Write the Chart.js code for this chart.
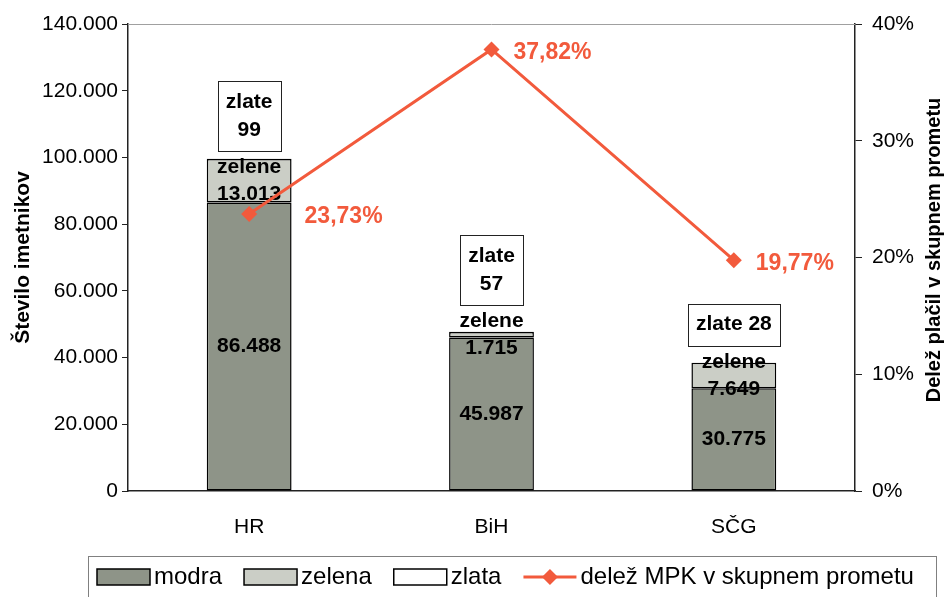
<!DOCTYPE html>
<html>
<head>
<meta charset="utf-8">
<script src="https://cdn.jsdelivr.net/npm/chart.js@4/dist/chart.umd.min.js"></script>
<style>
  html, body { margin: 0; padding: 0; background: #fff; }
  #wrap { width: 946px; height: 597px; }
</style>
</head>
<body>
<div id="wrap"><canvas id="chart" width="946" height="597"></canvas></div>
<script>
// --- DATA ---
const countries = ['HR', 'BiH', 'SČG'];
const modra = [86488, 45987, 30775];
const zelena = [13013, 1715, 7649];
const zlata = [99, 57, 28];
const zlataWrap = [true, true, false];   // label broken into two lines?
const delezMPK = [23.73, 37.82, 19.77];  // %

const leftTicksMax = 140000;
const rightTicksMax = 40;

const FONT = '"Liberation Sans", Arial, sans-serif';
const RED = '#f25a3c';
const MODRA = '#8e9488';
const ZELENA = '#cbcec6';

const fmtNum = v => String(v).replace(/\B(?=(\d{3})+(?!\d))/g, '.');
const fmtPct = v => v.toFixed(2).replace('.', ',') + '%';

// --- PLUGIN: labels, titles, legend ---
const decorPlugin = {
    id: 'decor',
    beforeDatasetDraw(chart, args) {
        // bar labels sit under the line series
        if (args.index !== 3) return;
        const ctx = chart.ctx;
        const m0 = chart.getDatasetMeta(0).data;
        const m1 = chart.getDatasetMeta(1).data;
        const m2 = chart.getDatasetMeta(2).data;
        ctx.save();
        ctx.fillStyle = '#000';
        ctx.textAlign = 'center';
        ctx.textBaseline = 'middle';
        ctx.font = 'bold 21px ' + FONT;
        countries.forEach((c, i) => {
            const b0 = m0[i], b1 = m1[i], b2 = m2[i];
            // modra
            ctx.fillText(fmtNum(modra[i]), b0.x, (b0.y + b0.base) / 2);
            // zelena
            const zc = (b1.y + b1.base) / 2;
            ctx.fillText('zelene', b1.x, zc - 13.5);
            ctx.fillText(fmtNum(zelena[i]), b1.x, zc + 13.5);
            // zlata (boxed label above bar)
            const lines = zlataWrap[i] ? ['zlate', String(zlata[i])] : ['zlate ' + zlata[i]];
            const w = Math.max(...lines.map(l => ctx.measureText(l).width)) + 16;
            const h = lines.length * 28 + 14;
            const bottom = Math.min(b2.y, zc - 30);
            const top = bottom - h;
            ctx.fillStyle = '#fff';
            ctx.fillRect(b2.x - w / 2, top, w, h);
            ctx.strokeStyle = '#222';
            ctx.lineWidth = 1;
            ctx.strokeRect(Math.round(b2.x - w / 2) + 0.5, Math.round(top) + 0.5, Math.round(w), Math.round(h));
            ctx.fillStyle = '#000';
            lines.forEach((l, k) => ctx.fillText(l, b2.x, top + 7 + 14 + k * 28));
        });
        ctx.restore();
    },
    afterDatasetsDraw(chart) {
        const ctx = chart.ctx;
        const pts = chart.getDatasetMeta(3).data;
        const bars = chart.getDatasetMeta(0).data;
        const tops = chart.getDatasetMeta(2).data;
        ctx.save();
        ctx.fillStyle = RED;
        ctx.font = 'bold 23px ' + FONT;
        ctx.textAlign = 'left';
        ctx.textBaseline = 'middle';
        pts.forEach((p, i) => {
            const barRight = bars[i].x + bars[i].width / 2;
            let x = p.x + 22;
            if (p.y > tops[i].y) x = barRight + 13;
            ctx.fillText(fmtPct(delezMPK[i]), x, p.y + 3);
        });
        ctx.restore();
    },
    afterDraw(chart) {
        const ctx = chart.ctx;
        const a = chart.chartArea;
        ctx.save();
        // top border of plot area
        ctx.strokeStyle = '#a0a0a0';
        ctx.lineWidth = 1;
        ctx.beginPath();
        ctx.moveTo(a.left, a.top + 0.5);
        ctx.lineTo(a.right, a.top + 0.5);
        ctx.stroke();

        // right axis title, reading bottom to top
        ctx.fillStyle = '#000';
        ctx.font = 'bold 20px ' + FONT;
        ctx.textAlign = 'center';
        ctx.textBaseline = 'middle';
        ctx.translate(934, 250);
        ctx.rotate(-Math.PI / 2);
        ctx.fillText('Delež plačil v skupnem prometu', 0, 0);
        ctx.setTransform(1, 0, 0, 1, 0, 0);

        // legend
        ctx.strokeStyle = '#808080';
        ctx.lineWidth = 1;
        ctx.strokeRect(88.5, 556.5, 848, 60);
        ctx.font = '24px ' + FONT;
        ctx.textAlign = 'left';
        const cy = 577;
        let x = 97;
        chart.data.datasets.forEach(ds => {
            if (ds.type === 'line') {
                ctx.strokeStyle = ds.borderColor;
                ctx.lineWidth = 3;
                ctx.beginPath();
                ctx.moveTo(x, cy);
                ctx.lineTo(x + 53, cy);
                ctx.stroke();
                ctx.fillStyle = ds.borderColor;
                ctx.beginPath();
                ctx.moveTo(x + 26.5, cy - 8);
                ctx.lineTo(x + 34.5, cy);
                ctx.lineTo(x + 26.5, cy + 8);
                ctx.lineTo(x + 18.5, cy);
                ctx.closePath();
                ctx.fill();
            } else {
                ctx.fillStyle = ds.backgroundColor;
                ctx.fillRect(x, cy - 8, 53, 16);
                ctx.strokeStyle = '#000';
                ctx.lineWidth = 1.5;
                ctx.strokeRect(x, cy - 8, 53, 16);
            }
            x += 57;
            ctx.fillStyle = '#000';
            ctx.fillText(ds.label, x, cy);
            x += ctx.measureText(ds.label).width + 22;
        });
        ctx.restore();
    }
};

const barCommon = {
    type: 'bar',
    yAxisID: 'y',
    stack: 'st',
    borderColor: '#000',
    borderWidth: 1.5,
    borderSkipped: false,
    barPercentage: 0.35,
    categoryPercentage: 1,
    order: 1
};

new Chart(document.getElementById('chart'), {
    type: 'bar',
    data: {
        labels: countries,
        datasets: [
            Object.assign({}, barCommon, { label: 'modra', data: modra, backgroundColor: MODRA }),
            Object.assign({}, barCommon, { label: 'zelena', data: zelena, backgroundColor: ZELENA }),
            Object.assign({}, barCommon, { label: 'zlata', data: zlata, backgroundColor: '#fff' }),
            {
                type: 'line',
                label: 'delež MPK v skupnem prometu',
                data: delezMPK,
                yAxisID: 'y1',
                borderColor: RED,
                backgroundColor: RED,
                borderWidth: 3,
                pointStyle: 'rectRot',
                pointRadius: 8,
                pointBorderWidth: 0,
                pointBackgroundColor: RED,
                tension: 0,
                order: 0
            }
        ]
    },
    options: {
        responsive: false,
        animation: false,
        layout: { padding: { top: 24, left: 0, right: 0, bottom: 0 } },
        plugins: {
            legend: { display: false },
            tooltip: { enabled: false }
        },
        scales: {
            x: {
                stacked: true,
                grid: { display: false },
                border: { display: true, color: '#222', width: 1.5 },
                ticks: { color: '#000', font: { family: FONT, size: 21 }, padding: 16 },
                afterFit(s) { s.height = 106; }
            },
            y: {
                stacked: true,
                position: 'left',
                min: 0,
                max: leftTicksMax,
                grid: { drawOnChartArea: false, drawTicks: true, tickLength: 6, color: '#222' },
                border: { display: true, color: '#222', width: 1.5 },
                ticks: {
                    stepSize: 20000,
                    color: '#000',
                    padding: 4,
                    font: { family: FONT, size: 21 },
                    callback: v => fmtNum(v)
                },
                title: {
                    display: true,
                    text: 'Število imetnikov',
                    color: '#000',
                    font: { family: FONT, size: 21, weight: 'bold' },
                    padding: { top: 11, bottom: 0 }
                },
                afterFit(s) { s.width = 128; }
            },
            y1: {
                position: 'right',
                min: 0,
                max: rightTicksMax,
                grid: { drawOnChartArea: false, drawTicks: true, tickLength: 7, color: '#222' },
                border: { display: true, color: '#222', width: 1.5 },
                ticks: {
                    stepSize: 10,
                    color: '#000',
                    padding: 10,
                    font: { family: FONT, size: 21 },
                    callback: v => v + '%'
                },
                afterFit(s) { s.width = 91; }
            }
        }
    },
    plugins: [decorPlugin]
});
</script>
</body>
</html>
